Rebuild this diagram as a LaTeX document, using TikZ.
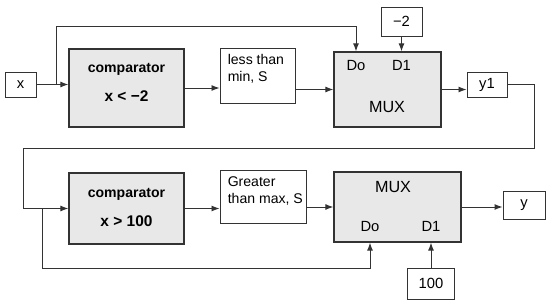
\documentclass[tikz,border=0pt]{standalone}
\usepackage{fontspec}
\setmainfont{Liberation Sans}
\usetikzlibrary{arrows.meta, backgrounds, positioning}

\definecolor{linegray}{HTML}{333333}
\definecolor{boxgray}{HTML}{E8E8E8}

\begin{document}
\begin{tikzpicture}[
            x=0.25mm, y=-0.25mm,
            background rectangle/.style={fill=white},
            show background rectangle,
            inner frame sep=0pt,
            font=\fontsize{10}{12}\selectfont,
            >={Latex[length=2mm,width=1.5mm]}
        ]

        \tikzstyle{block}=[
            draw=linegray,
            fill=boxgray,
            line width=0.9pt,
            inner sep=0pt
        ]
        \tikzstyle{plain}=[
            draw=linegray,
            fill=white,
            line width=0.7pt,
            inner sep=0pt,
            font=\fontsize{10.5}{12}\selectfont
        ]
        \tikzstyle{wire}=[
            draw=linegray,
            line width=0.7pt
        ]
        \tikzstyle{bold}=[font=\fontsize{10}{12}\selectfont\bfseries]
        \tikzstyle{cond}=[font=\fontsize{11}{13}\selectfont\bfseries]
        \tikzstyle{pin}=[font=\fontsize{10.5}{12}\selectfont]
        \tikzstyle{muxname}=[font=\fontsize{11.5}{13}\selectfont]

        \useasboundingbox (0,0) rectangle (550,305);

        % first stage: x < -2
        \node[plain, minimum width=7.75mm, minimum height=6.25mm] (x) at (20.5,84.5) {x};
        \node[block, minimum width=28.75mm, minimum height=19.5mm] (cmpA) at (126.5,88) {};
        \node[bold] (cmpAname) at (126.5,69) {comparator};
        \node[cond] (cmpAcond) at (126.5,96) {x < −2};
        \node[plain, minimum width=18.75mm, minimum height=13.75mm] (less) at (257.5,75.5) {};
        \node[anchor=north west, align=left, inner sep=0pt] (lessTxt) at ([shift={(8,7)}]less.north west) {less than\\min, S};
        \node[block, minimum width=26.75mm, minimum height=18.75mm] (muxA) at (387.5,89.5) {};
        \node[pin] (doA) at (356,65) {Do};
        \node[pin] (dA) at (401.5,65) {D1};
        \node[muxname] (muxAname) at (387,107) {MUX};
        \node[plain, minimum width=10.25mm, minimum height=7.25mm] (minval) at (401.5,21.5) {−2};
        \node[plain, minimum width=10mm, minimum height=6.25mm] (y1) at (487,84.5) {y1};

        \coordinate (tapA) at (56,84.5);
        \coordinate (topA) at (56,26);

        \draw[wire, ->] (x.east) -- (x.east -| cmpA.west);
        \draw[wire, ->] (tapA) -- (topA) -| (doA |- muxA.north);
        \draw[wire, ->] (cmpA.east) -- (cmpA.east -| less.west);
        \draw[wire, ->] (less.east |- muxA) -- (muxA.west);
        \draw[wire, ->] (minval.south) -- (minval.south |- muxA.north);
        \draw[wire, ->] (muxA.east) -- (muxA.east -| y1.west);

        % second stage: x > 100
        \node[block, minimum width=28.75mm, minimum height=17.75mm] (cmpB) at (126.5,208.5) {};
        \node[bold] (cmpBname) at (126.5,194) {comparator};
        \node[cond] (cmpBcond) at (126.5,221) {x > 100};
        \node[plain, minimum width=21.5mm, minimum height=13.25mm] (greater) at (263,196.5) {};
        \node[anchor=north west, align=left, inner sep=0pt] (greaterTxt) at ([shift={(8,7)}]greater.north west) {Greater\\than max, S};
        \node[block, minimum width=31.75mm, minimum height=17.5mm] (muxB) at (397.5,207) {};
        \node[muxname] (muxBname) at (393,187) {MUX};
        \node[pin] (doB) at (370,226) {Do};
        \node[pin] (dB) at (431,226) {D1};
        \node[plain, minimum width=11.75mm, minimum height=7.75mm] (maxval) at (431,283.5) {100};
        \node[plain, minimum width=10.5mm, minimum height=7mm] (y) at (524,205) {y};

        \coordinate (loopR) at (534,148);
        \coordinate (loopL) at (23,148);
        \coordinate (tapB) at (42,208.5);
        \coordinate (botB) at (42,268);

        \draw[wire, ->] (y1.east) -| (loopR) -- (loopL) |- (cmpB.west);
        \draw[wire, ->] (tapB) -- (botB) -| (doB |- muxB.south);
        \draw[wire, ->] (cmpB.east) -- (cmpB.east -| greater.west);
        \draw[wire, ->] (greater.east |- muxB) -- (muxB.west);
        \draw[wire, ->] (maxval.north) -- (maxval.north |- muxB.south);
        \draw[wire, ->] (muxB.east) -- (muxB.east -| y.west);

    \end{tikzpicture}
\end{document}
